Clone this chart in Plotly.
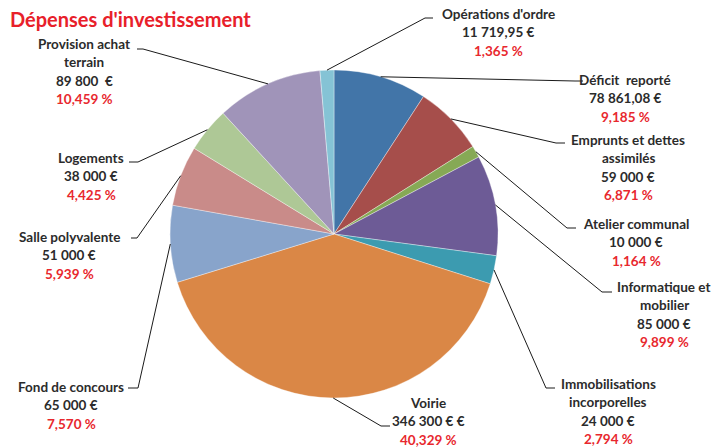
import math
import plotly.graph_objects as go

# ---------------- data ----------------
categories = ["Déficit  reporté", "Emprunts et dettes|assimilés", "Atelier communal",
              "Informatique et|mobilier", "Immobilisations|incorporelles", "Voirie",
              "Fond de concours", "Salle polyvalente", "Logements",
              "Provision achat|terrain", "Opérations d'ordre"]
amounts = [78861.08, 59000, 10000, 85000, 24000, 346300, 65000, 51000, 38000, 89800, 11719.95]
amount_labels = ["78 861,08 €", "59 000 €", "10 000 €", "85 000 €", "24 000 €", "346 300 € €",
                 "65 000 €", "51 000 €", "38 000 €", "89 800  €", "11 719,95 €"]
percent_labels = ["9,185 %", "6,871 %", "1,164 %", "9,899 %", "2,794 %", "40,329 %",
                  "7,570 %", "5,939 %", "4,425 %", "10,459 %", "1,365 %"]

colors = ["#4275A8", "#A64E4B", "#86A955", "#6D5B96", "#3C9BB0", "#DA8746",
          "#88A4CB", "#C98B89", "#AEC896", "#A094B9", "#85C3D5"]

# label layout (pixels): text centre x, first line y, elbow x, elbow y, end x
label_pos = [
    (625, 80, 575, 81, 583),
    (628, 140, 556, 143, 565),
    (636, 224, 567, 228, 576),
    (664, 287, 602, 292, 612),
    (608, 384, 546, 388, 555),
    (428, 403, 381, 426, 390),
    (71, 387, 138, 388, 128),
    (69, 237, 137, 238, 131),
    (91, 158, 138, 162, 129),
    (84, 44, 143, 49, 137),
    (498, 14, 425, 18, 433),
]

W, H = 716, 448
PIE_X = (170, 498)
PIE_Y = (70, 398)
LINE_H = 18.3


def px(x):
    return x / W


def py(y):
    return 1 - y / H


fig = go.Figure()
fig.add_trace(go.Pie(
    labels=[c.replace("|", " ") for c in categories],
    values=amounts,
    sort=False,
    direction="clockwise",
    rotation=0,
    textinfo="none",
    marker=dict(colors=colors, line=dict(color="rgba(255,255,255,0.6)", width=0.6)),
    domain=dict(x=[px(PIE_X[0]), px(PIE_X[1])], y=[py(PIE_Y[1]), py(PIE_Y[0])]),
    showlegend=False,
))

cx = (PIE_X[0] + PIE_X[1]) / 2
cy = (PIE_Y[0] + PIE_Y[1]) / 2
r = (PIE_X[1] - PIE_X[0]) / 2
total = sum(amounts)

shapes = []
annotations = []
cum = 0
dark = "#2B2B2B"
red = "#E8282E"
font_family = "Lato, 'Open Sans', sans-serif"
for i, v in enumerate(amounts):
    mid = (cum + v / 2) / total
    cum += v
    ang = 2 * math.pi * mid
    sx = cx + r * math.sin(ang)
    sy = cy - r * math.cos(ang)
    tx, ty, ex, ey, endx = label_pos[i]
    shapes.append(dict(
        type="path", xref="paper", yref="paper",
        path=f"M {px(sx)},{py(sy)} L {px(ex)},{py(ey)} L {px(endx)},{py(ey)}",
        line=dict(color="#1A1A1A", width=1),
    ))
    lines = categories[i].split("|") + [amount_labels[i]]
    for k, t in enumerate(lines + [percent_labels[i]]):
        annotations.append(dict(
            x=px(tx), y=py(ty + k * LINE_H), xref="paper", yref="paper",
            text=f"<b>{t}</b>", showarrow=False, xanchor="center", yanchor="middle",
            font=dict(family=font_family, size=13.5, color=red if k == len(lines) else dark),
        ))

annotations.append(dict(
    x=px(8), y=py(19), xref="paper", yref="paper", text="<b>Dépenses d'investissement</b>",
    showarrow=False, xanchor="left", yanchor="middle",
    font=dict(family=font_family, size=20, color="#E8202A"),
))

fig.update_layout(
    width=W, height=H,
    margin=dict(l=0, r=0, t=0, b=0),
    paper_bgcolor="white", plot_bgcolor="white",
    shapes=shapes, annotations=annotations,
)

fig.write_html("out.html", config={"displayModeBar": False},
               post_script="document.body.style.margin='0';document.body.style.overflow='hidden';")
